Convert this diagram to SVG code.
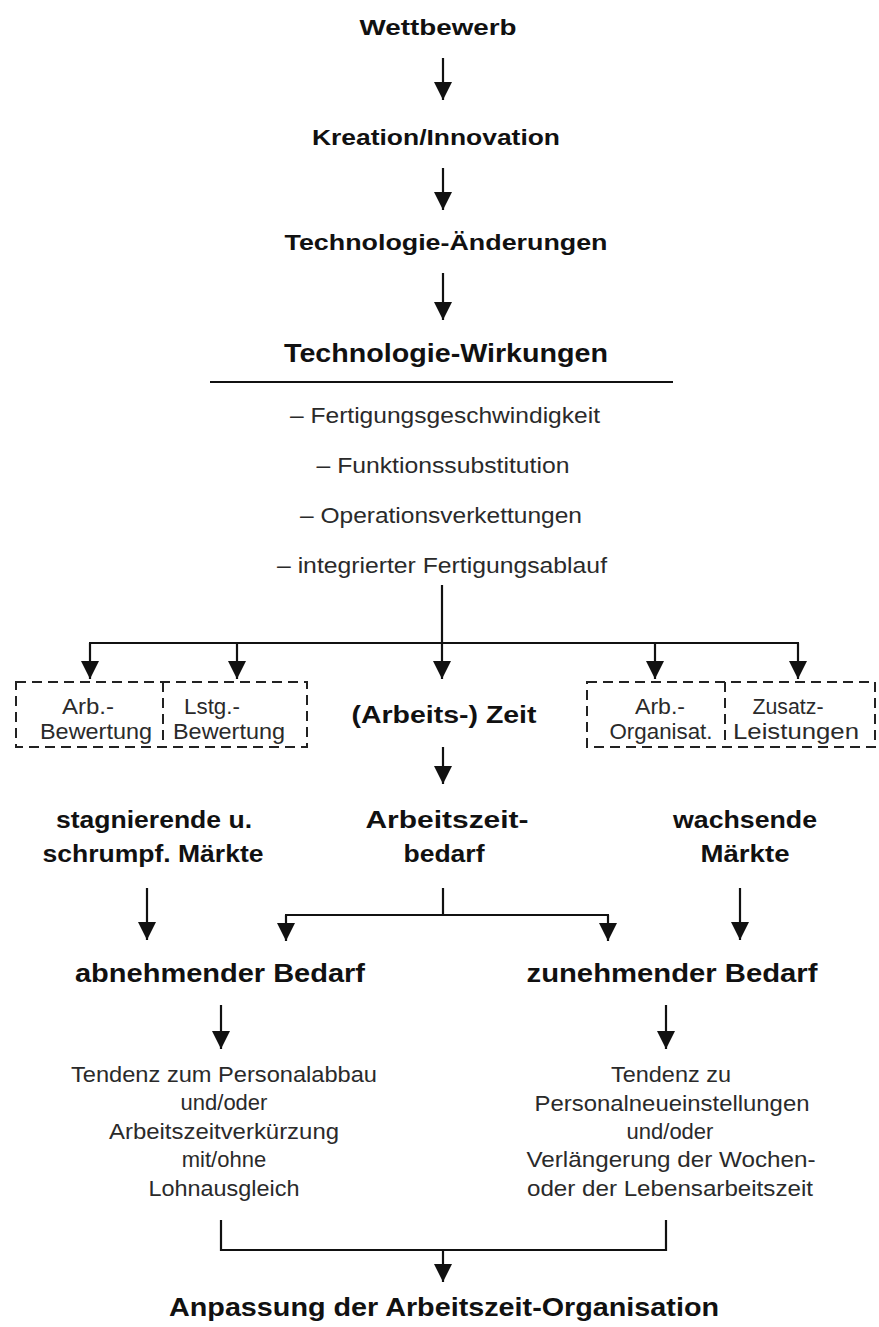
<svg xmlns="http://www.w3.org/2000/svg" width="879" height="1327" viewBox="0 0 879 1327">
<defs>
<marker id="ah" viewBox="0 0 18 18" refX="18" refY="9" markerWidth="18" markerHeight="18" markerUnits="userSpaceOnUse" orient="auto">
<path d="M0,0 L18,9 L0,18 z" fill="#111"/>
</marker>
<style>
.h{font-family:"Liberation Sans",Arial,sans-serif;font-weight:bold;fill:#111;text-anchor:middle}
.n{font-family:"Liberation Sans",Arial,sans-serif;fill:#2a2a2a;text-anchor:middle}
.c{stroke:#111;stroke-width:2.2;fill:none}
.a{stroke:#111;stroke-width:2.2;fill:none;marker-end:url(#ah)}
.d{stroke:#222;stroke-width:2;fill:none;stroke-dasharray:10,6}
</style>
</defs>
<rect width="879" height="1327" fill="#fff"/>

<g id="wettbewerb"><text class="h" x="438" y="35" font-size="22" textLength="157" lengthAdjust="spacingAndGlyphs">Wettbewerb</text></g>
<g id="kreation"><text class="h" x="436" y="145" font-size="22" textLength="248" lengthAdjust="spacingAndGlyphs">Kreation/Innovation</text></g>
<g id="tech-aenderungen"><text class="h" x="446" y="250" font-size="22" textLength="323" lengthAdjust="spacingAndGlyphs">Technologie-Änderungen</text></g>
<g id="tech-wirkungen">
<text class="h" x="446" y="362" font-size="25" textLength="324" lengthAdjust="spacingAndGlyphs">Technologie-Wirkungen</text>
<line x1="210" y1="382" x2="673" y2="382" stroke="#111" stroke-width="2.2"/>
<text class="n" x="445" y="423" font-size="22" textLength="310" lengthAdjust="spacingAndGlyphs">–  Fertigungsgeschwindigkeit</text>
<text class="n" x="443" y="473" font-size="22" textLength="253" lengthAdjust="spacingAndGlyphs">–  Funktionssubstitution</text>
<text class="n" x="441" y="523" font-size="22" textLength="282" lengthAdjust="spacingAndGlyphs">–  Operationsverkettungen</text>
<text class="n" x="442" y="573" font-size="22" textLength="330" lengthAdjust="spacingAndGlyphs">–  integrierter Fertigungsablauf</text>
</g>

<g id="box-left">
<path class="d" d="M16,682 H307 V747 H16 Z"/>
<line class="d" x1="163" y1="682" x2="163" y2="747"/>
<text class="n" x="88" y="714" font-size="22" textLength="52" lengthAdjust="spacingAndGlyphs">Arb.-</text>
<text class="n" x="96" y="739" font-size="22" textLength="112" lengthAdjust="spacingAndGlyphs">Bewertung</text>
<text class="n" x="212" y="714" font-size="22" textLength="56" lengthAdjust="spacingAndGlyphs">Lstg.-</text>
<text class="n" x="229" y="739" font-size="22" textLength="112" lengthAdjust="spacingAndGlyphs">Bewertung</text>
</g>
<g id="arbeitszeit"><text class="h" x="444" y="723" font-size="23" textLength="185" lengthAdjust="spacingAndGlyphs">(Arbeits-) Zeit</text></g>
<g id="box-right">
<path class="d" d="M587,682 H875 V747 H587 Z"/>
<line class="d" x1="725" y1="682" x2="725" y2="747"/>
<text class="n" x="660" y="714" font-size="22" textLength="50" lengthAdjust="spacingAndGlyphs">Arb.-</text>
<text class="n" x="661" y="739" font-size="22" textLength="103" lengthAdjust="spacingAndGlyphs">Organisat.</text>
<text class="n" x="788" y="714" font-size="22" textLength="71" lengthAdjust="spacingAndGlyphs">Zusatz-</text>
<text class="n" x="796" y="739" font-size="22" textLength="126" lengthAdjust="spacingAndGlyphs">Leistungen</text>
</g>

<g id="stagnierende">
<text class="h" x="154" y="828" font-size="23" textLength="196" lengthAdjust="spacingAndGlyphs">stagnierende u.</text>
<text class="h" x="153" y="862" font-size="23" textLength="221" lengthAdjust="spacingAndGlyphs">schrumpf. Märkte</text>
</g>
<g id="arbeitszeitbedarf">
<text class="h" x="447" y="828" font-size="23" textLength="163" lengthAdjust="spacingAndGlyphs">Arbeitszeit-</text>
<text class="h" x="444" y="862" font-size="23" textLength="81" lengthAdjust="spacingAndGlyphs">bedarf</text>
</g>
<g id="wachsende">
<text class="h" x="745" y="828" font-size="23" textLength="144" lengthAdjust="spacingAndGlyphs">wachsende</text>
<text class="h" x="745" y="862" font-size="23" textLength="89" lengthAdjust="spacingAndGlyphs">Märkte</text>
</g>

<g id="abnehmend"><text class="h" x="220" y="982" font-size="25" textLength="290" lengthAdjust="spacingAndGlyphs">abnehmender Bedarf</text></g>
<g id="zunehmend"><text class="h" x="672" y="982" font-size="25" textLength="291" lengthAdjust="spacingAndGlyphs">zunehmender Bedarf</text></g>

<g id="tendenz-abbau">
<text class="n" x="224" y="1082" font-size="22" textLength="306" lengthAdjust="spacingAndGlyphs">Tendenz zum Personalabbau</text>
<text class="n" x="224" y="1110" font-size="22">und/oder</text>
<text class="n" x="224" y="1139" font-size="22" textLength="230" lengthAdjust="spacingAndGlyphs">Arbeitszeitverkürzung</text>
<text class="n" x="224" y="1167" font-size="22">mit/ohne</text>
<text class="n" x="224" y="1196" font-size="22" textLength="151" lengthAdjust="spacingAndGlyphs">Lohnausgleich</text>
</g>
<g id="tendenz-neueinstellung">
<text class="n" x="671" y="1082" font-size="22" textLength="120" lengthAdjust="spacingAndGlyphs">Tendenz zu</text>
<text class="n" x="672" y="1111" font-size="22" textLength="275" lengthAdjust="spacingAndGlyphs">Personalneueinstellungen</text>
<text class="n" x="670" y="1139" font-size="22">und/oder</text>
<text class="n" x="671" y="1167" font-size="22" textLength="289" lengthAdjust="spacingAndGlyphs">Verlängerung der Wochen-</text>
<text class="n" x="670" y="1196" font-size="22" textLength="286" lengthAdjust="spacingAndGlyphs">oder der Lebensarbeitszeit</text>
</g>

<g id="anpassung"><text class="h" x="444" y="1316" font-size="25" textLength="550" lengthAdjust="spacingAndGlyphs">Anpassung der Arbeitszeit-Organisation</text></g>

<g id="connectors">
<line class="a" x1="443" y1="58" x2="443" y2="100"/>
<line class="a" x1="443" y1="168" x2="443" y2="210"/>
<line class="a" x1="443" y1="273" x2="443" y2="320"/>
<line class="c" x1="442" y1="585" x2="442" y2="643"/>
<line class="c" x1="89" y1="643" x2="799" y2="643"/>
<line class="a" x1="90" y1="643" x2="90" y2="679"/>
<line class="a" x1="237" y1="643" x2="237" y2="679"/>
<line class="a" x1="442" y1="643" x2="442" y2="679"/>
<line class="a" x1="655" y1="643" x2="655" y2="679"/>
<line class="a" x1="798" y1="643" x2="798" y2="679"/>
<line class="a" x1="443" y1="747" x2="443" y2="784"/>
<line class="a" x1="147" y1="888" x2="147" y2="940"/>
<line class="a" x1="740" y1="888" x2="740" y2="940"/>
<line class="c" x1="443" y1="888" x2="443" y2="915"/>
<line class="c" x1="285" y1="915" x2="609" y2="915"/>
<line class="a" x1="286" y1="915" x2="286" y2="941"/>
<line class="a" x1="608" y1="915" x2="608" y2="941"/>
<line class="a" x1="221" y1="1005" x2="221" y2="1049"/>
<line class="a" x1="666" y1="1005" x2="666" y2="1049"/>
<path class="c" d="M221,1220 V1250 H666 V1220"/>
<line class="a" x1="443" y1="1250" x2="443" y2="1282"/>
</g>
</svg>
